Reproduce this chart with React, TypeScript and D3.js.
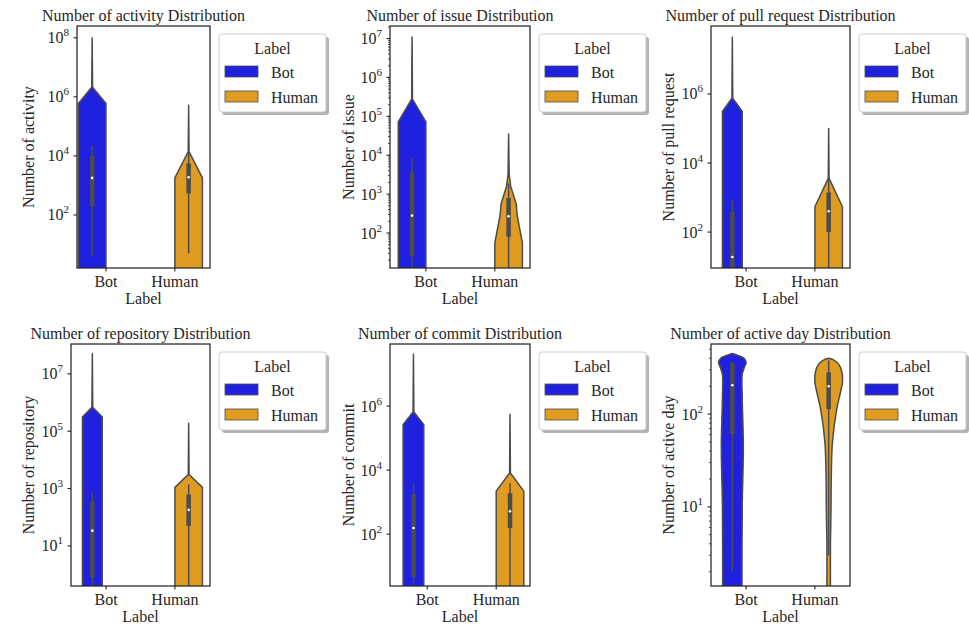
import React from 'react';
import * as d3 from 'd3';

const categories = ['Bot', 'Human'];
const metrics = ['activity', 'issue', 'pull request', 'repository', 'commit', 'active day'];

// log y limits of each panel
const yLimits = [[1.6, 2.5e8], [12.6, 2.1e7], [9.1, 9.3e7], [0.4, 1.1e8], [2.4, 8.7e7], [1.4, 570]];
const yTicks = [
  [1e2, 1e4, 1e6, 1e8],
  [1e2, 1e3, 1e4, 1e5, 1e6, 1e7],
  [1e2, 1e4, 1e6],
  [1e1, 1e3, 1e5, 1e7],
  [1e2, 1e4, 1e6],
  [1e1, 1e2],
];
const showMinor = [false, true, false, false, false, true];
// category axis limits (Bot = 0, Human = 1)
const xLimits = [[-0.42, 1.51], [-0.52, 1.51], [-0.51, 1.51], [-0.51, 1.51], [-0.54, 1.49], [-0.51, 1.51]];

// violin outlines: [value, half width as a share of the widest violin]
const botShapes = [
  [[0.1, 1], [590000, 1], [2.1e6, 0.03], [1e8, 0]],
  [[0.1, 1], [72000, 1], [275000, 0.03], [1.1e7, 0]],
  [[0.1, 0.72], [310000, 0.72], [750000, 0.03], [4.4e7, 0]],
  [[0.01, 0.72], [310000, 0.72], [690000, 0.03], [5e7, 0]],
  [[0.1, 0.75], [260000, 0.75], [650000, 0.03], [4.2e7, 0]],
  [[1, 0.7], [10, 0.72], [45, 0.8], [150, 0.72], [270, 0.72], [320, 0.88], [360, 1], [400, 0.85], [430, 0.4], [450, 0]],
];
const humanShapes = [
  [[0.1, 1], [1800, 1], [14000, 0.03], [520000, 0]],
  [[0.1, 1], [56, 1], [282, 0.62], [560, 0.55], [1600, 0.15], [3200, 0.04], [35000, 0]],
  [[0.1, 1], [540, 1], [3600, 0.03], [100000, 0]],
  [[0.01, 1], [1100, 1], [3100, 0.03], [190000, 0]],
  [[0.1, 1], [2200, 1], [8100, 0.03], [560000, 0]],
  [[1, 0.13], [4.1, 0.13], [9.4, 0.17], [21, 0.19], [49, 0.27], [110, 0.57], [170, 0.85], [220, 1], [290, 0.95], [350, 0.7], [385, 0.35], [400, 0]],
];
// inner box: [low whisker, q1, median, q3, high whisker]
const botBoxes = [
  [4, 200, 1800, 10000, 22000],
  [1, 25, 280, 3600, 8300],
  [1, 5, 19, 390, 850],
  [0.3, 0.8, 34, 350, 720],
  [1, 4.6, 155, 1800, 3900],
  [2, 61, 205, 355, 365],
];
const humanBoxes = [
  [5, 540, 1900, 5500, 13000],
  [1, 80, 270, 790, 1900],
  [1, 100, 400, 1400, 3350],
  [0.3, 50, 180, 620, 1400],
  [1, 155, 520, 1900, 3900],
  [3, 113, 200, 282, 380],
];

const colors = ['#2020df', '#df9c20'];
const gray = '#4c4c4c';
const ink = '#262626';
const font = "'Liberation Serif', 'Times New Roman', serif";

// axes rectangles [left, right, top, bottom]
const frames = [
  [77, 210, 26, 268], [390, 530, 26, 268], [711, 850, 26, 268],
  [71, 210, 344, 586], [390, 530, 344, 586], [711, 850, 344, 586],
];
const ylabelX = [28, 348, 668, 28, 348, 668];

const Panel = ({ i }: { i: number }) => {
  const [x0, x1, y0, y1] = frames[i];
  const x = d3.scaleLinear().domain(xLimits[i]).range([x0, x1]);
  const y = d3.scaleLog().domain(yLimits[i]).range([y1, y0]);
  const unit = x(1) - x(0);
  const half = unit * 0.2;
  const curve = i === 5 ? d3.curveCatmullRom : d3.curveLinear;
  const clipId = `clip-${i}`;

  const minor: number[] = [];
  if (showMinor[i]) {
    const [lo, hi] = yLimits[i];
    for (let k = Math.floor(Math.log10(lo)); k <= Math.ceil(Math.log10(hi)); k++) {
      for (let m = 2; m < 10; m++) {
        const v = m * Math.pow(10, k);
        if (v >= lo && v <= hi) minor.push(v);
      }
    }
  }

  const violins = [botShapes[i], humanShapes[i]].map((shape, h) => {
    const cx = x(h) + (h === 0 ? -0.2 : 0.2) * unit;
    const area = d3.area<number[]>()
      .y(d => y(d[0]))
      .x0(d => cx - d[1] * half)
      .x1(d => cx + d[1] * half)
      .curve(curve);
    const box = [botBoxes[i], humanBoxes[i]][h];
    return (
      <g key={h}>
        <path d={area(shape) || ''} fill={colors[h]} stroke={gray} strokeWidth={1.5} strokeLinejoin="round" />
        <line x1={cx} x2={cx} y1={y(box[0])} y2={y(box[4])} stroke={gray} strokeWidth={1.5} />
        <line x1={cx} x2={cx} y1={y(box[1])} y2={y(box[3])} stroke={gray} strokeWidth={4.5} />
        <circle cx={cx} cy={y(box[2])} r={1.3} fill="white" />
      </g>
    );
  });

  const lx = x1 + 9;
  const ly = y0 + 8;

  return (
    <g fontFamily={font} fill={ink}>
      <clipPath id={clipId}>
        <rect x={x0} y={y0} width={x1 - x0} height={y1 - y0} />
      </clipPath>
      <g clipPath={`url(#${clipId})`}>{violins}</g>
      <rect x={x0} y={y0} width={x1 - x0} height={y1 - y0} fill="none" stroke={ink} strokeWidth={1.25} />

      {yTicks[i].map(v => (
        <g key={v}>
          <line x1={x0 - 3.5} x2={x0} y1={y(v)} y2={y(v)} stroke={ink} strokeWidth={1.1} />
          <text x={x0 - 8} y={y(v) + 5.5} textAnchor="end" fontSize={16}>
            10<tspan dy={-7} fontSize={11}>{Math.round(Math.log10(v))}</tspan>
          </text>
        </g>
      ))}
      {minor.map(v => (
        <line key={v} x1={x0 - 2} x2={x0} y1={y(v)} y2={y(v)} stroke={ink} strokeWidth={0.8} />
      ))}

      {categories.map((c, k) => (
        <g key={c}>
          <line x1={x(k)} x2={x(k)} y1={y1} y2={y1 + 3.5} stroke={ink} strokeWidth={1.1} />
          <text x={x(k)} y={y1 + 19} textAnchor="middle" fontSize={16}>{c}</text>
        </g>
      ))}

      <text x={(x0 + x1) / 2} y={y1 + 36} textAnchor="middle" fontSize={16}>Label</text>
      <text x={(x0 + x1) / 2} y={y0 - 5} textAnchor="middle" fontSize={16}>
        {`Number of ${metrics[i]} Distribution`}
      </text>
      <text transform={`translate(${ylabelX[i]},${(y0 + y1) / 2}) rotate(-90)`} dy="0.35em" textAnchor="middle" fontSize={16}>
        {`Number of ${metrics[i]}`}
      </text>

      <rect x={lx + 3} y={ly + 3} width={107} height={78} rx={3} fill="#000" opacity={0.3} />
      <rect x={lx} y={ly} width={107} height={78} rx={3} fill="white" stroke="#cccccc" strokeWidth={1} />
      <text x={lx + 53.5} y={ly + 19.5} textAnchor="middle" fontSize={16}>Label</text>
      {categories.map((c, k) => (
        <g key={c}>
          <rect x={lx + 6} y={ly + 32 + k * 25} width={33} height={11} fill={colors[k]} stroke={gray} strokeWidth={0.8} />
          <text x={lx + 52} y={ly + 43.5 + k * 25} fontSize={16}>{c}</text>
        </g>
      ))}
    </g>
  );
};

export default function App() {
  return (
    <svg width={969} height={625} style={{ position: 'absolute', left: 0, top: 0, background: 'white' }}>
      {metrics.map((m, i) => <Panel key={m} i={i} />)}
    </svg>
  );
}
